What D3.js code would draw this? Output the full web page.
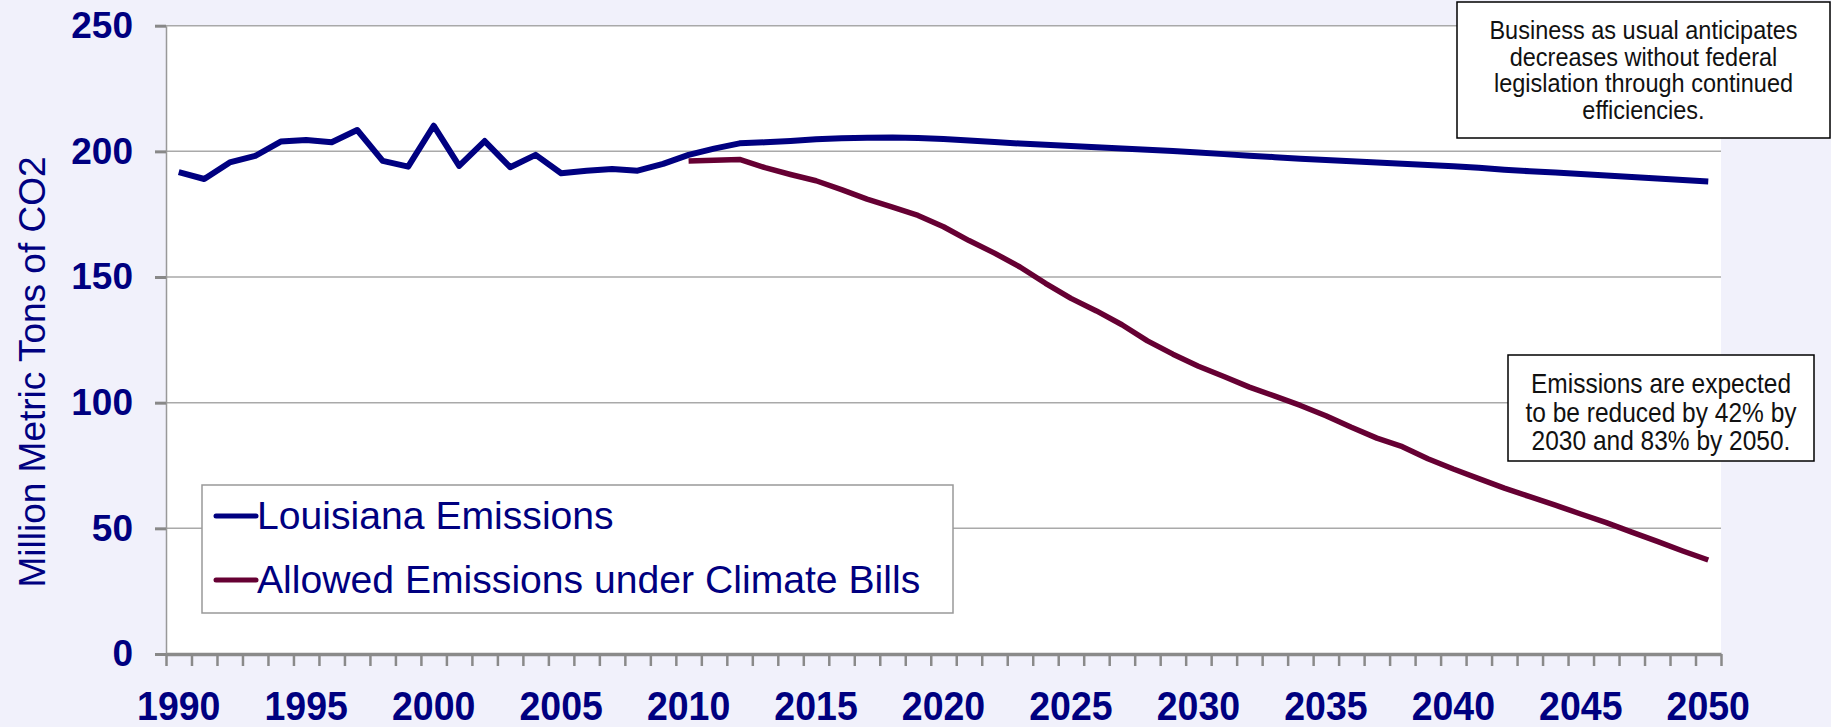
<!DOCTYPE html>
<html>
<head>
<meta charset="utf-8">
<script src="https://cdn.jsdelivr.net/npm/d3@7/dist/d3.min.js"></script>
<style>
body{margin:0;background:#f1f1fb;}
svg{display:block;font-family:Arial,"Liberation Sans",sans-serif;}
</style>
</head>
<body>
<svg id="chart" width="1831" height="727"></svg>
<script>
var years = [1990,1991,1992,1993,1994,1995,1996,1997,1998,1999,
	2000,2001,2002,2003,2004,2005,2006,2007,2008,2009,
	2010,2011,2012,2013,2014,2015,2016,2017,2018,2019,
	2020,2021,2022,2023,2024,2025,2026,2027,2028,2029,
	2030,2031,2032,2033,2034,2035,2036,2037,2038,2039,
	2040,2041,2042,2043,2044,2045,2046,2047,2048,2049,2050];
var xLabels = [1990,1995,2000,2005,2010,2015,2020,2025,2030,2035,2040,2045,2050];
var yTicks = [0,50,100,150,200,250];

// Louisiana Emissions (1990 - 2050)
var louisiana = [191.7,189.0,195.6,198.2,203.9,204.5,203.6,208.5,196.2,193.9,
	210.2,194.2,204.1,193.7,198.6,191.3,192.3,193.0,192.3,195.0,
	198.6,201.1,203.2,203.6,204.1,204.8,205.2,205.4,205.5,205.3,
	204.9,204.3,203.7,203.1,202.6,202.1,201.6,201.1,200.6,200.1,
	199.5,198.9,198.3,197.7,197.1,196.6,196.1,195.6,195.1,194.6,
	194.1,193.5,192.7,192.1,191.6,191.0,190.4,189.8,189.2,188.6,188.0];
// Allowed Emissions under Climate Bills (2010 - 2050)
var allowedYears = years.slice(20);
var allowed = [196.2,196.5,196.8,193.5,190.8,188.3,184.8,181.0,177.8,174.5,
	170.0,164.5,159.5,154.0,147.5,141.5,136.5,131.0,124.6,119.3,
	114.5,110.4,106.2,102.6,98.9,94.8,90.2,85.9,82.5,77.7,
	73.6,69.8,66.0,62.6,59.2,55.7,52.3,48.5,44.8,41.0,37.4];

var seriesNames = ["Louisiana Emissions", "Allowed Emissions under Climate Bills"];
var seriesColors = ["#000080", "#660033"];
var note1 = ["Business as usual anticipates", "decreases without federal", "legislation through continued", "efficiencies."];
var note2 = ["Emissions are expected", "to be reduced by 42% by", "2030 and 83% by 2050."];

var svg = d3.select("#chart");
var plotLeft = 166, plotRight = 1721, plotTop = 25.7, plotBottom = 654;

var x = d3.scalePoint().domain(years).range([plotLeft, plotRight]).padding(0.5);
var xEdge = d3.scaleLinear().domain([years[0]-0.5, years[years.length-1]+0.5]).range([plotLeft, plotRight]);
var y = d3.scaleLinear().domain([0, 250]).range([plotBottom, plotTop]);

svg.append("rect").attr("width", 1831).attr("height", 727).attr("fill", "#f1f1fb");
svg.append("rect").attr("x", plotLeft).attr("y", plotTop).attr("width", plotRight-plotLeft).attr("height", plotBottom-plotTop).attr("fill", "#fff");

// gridlines
svg.append("g").selectAll("line").data(yTicks.slice(1)).join("line")
	.attr("x1", plotLeft).attr("x2", plotRight)
	.attr("y1", function(d){return y(d);}).attr("y2", function(d){return y(d);})
	.attr("stroke", "#a9a9a9").attr("stroke-width", 1.5);

// y axis
var yAxis = svg.append("g").attr("transform", "translate("+plotLeft+",0)")
	.call(d3.axisLeft(y).tickValues(yTicks).tickSize(11).tickPadding(22).tickSizeOuter(0));
yAxis.select(".domain").attr("stroke", "#999").attr("stroke-width", 1.5);
yAxis.selectAll(".tick line").attr("stroke", "#888").attr("stroke-width", 3);
yAxis.selectAll(".tick text").attr("fill", "#000080").attr("font-size", 37).attr("font-weight", "bold")
	.attr("font-family", "Arial, 'Liberation Sans', sans-serif");

// x axis (ticks between categories)
var edges = years.map(function(d){return d-0.5;}).concat([years[years.length-1]+0.5]);
var xAxis = svg.append("g").attr("transform", "translate(0,"+plotBottom+")")
	.call(d3.axisBottom(xEdge).tickValues(edges).tickSize(12).tickSizeOuter(0).tickFormat(""));
xAxis.select(".domain").attr("stroke", "#8a8a8a").attr("stroke-width", 3.5);
xAxis.selectAll(".tick line").attr("stroke", "#8a8a8a").attr("stroke-width", 2.5);

svg.append("g").selectAll("text").data(xLabels).join("text")
	.attr("transform", function(d){return "translate("+x(d)+",720) scale(1,1.08)";})
	.attr("text-anchor", "middle").attr("fill", "#000080")
	.attr("font-size", 37.5).attr("font-weight", "bold")
	.text(function(d){return d;});

// y axis title
svg.append("text").attr("transform", "translate(45,372) rotate(-90)")
	.attr("text-anchor", "middle").attr("fill", "#000080").attr("font-size", 37)
	.text("Million Metric Tons of CO2");

// lines
var line = d3.line().x(function(d){return x(d[0]);}).y(function(d){return y(d[1]);});
svg.append("path").datum(d3.zip(years, louisiana)).attr("d", line)
	.attr("fill", "none").attr("stroke", seriesColors[0]).attr("stroke-width", 6).attr("stroke-linejoin", "round");
svg.append("path").datum(d3.zip(allowedYears, allowed)).attr("d", line)
	.attr("fill", "none").attr("stroke", seriesColors[1]).attr("stroke-width", 5.5).attr("stroke-linejoin", "round");

// legend
var lg = svg.append("g");
lg.append("rect").attr("x", 202).attr("y", 485).attr("width", 751).attr("height", 128)
	.attr("fill", "#fff").attr("stroke", "#999").attr("stroke-width", 1.5);
var lgItem = lg.selectAll("g").data(seriesNames).join("g")
	.attr("transform", function(d, i){return "translate(0,"+(516+i*64)+")";});
lgItem.append("line").attr("x1", 216).attr("x2", 256).attr("stroke-linecap", "round")
	.attr("stroke", function(d, i){return seriesColors[i];}).attr("stroke-width", 5);
lgItem.append("text").attr("transform", "translate(257,13) scale(1.03,1)")
	.attr("fill", "#000080").attr("font-size", 38).text(function(d){return d;});

// notes
function makeNote(lines, bx, by, bw, bh, firstBase, step, fs){
	var g = svg.append("g");
	g.append("rect").attr("x", bx).attr("y", by).attr("width", bw).attr("height", bh)
		.attr("fill", "#fff").attr("stroke", "#000").attr("stroke-width", 1.5);
	g.selectAll("text").data(lines).join("text")
		.attr("transform", function(d, i){return "translate("+(bx+bw/2)+","+(firstBase+i*step)+") scale(1,1.1)";})
		.attr("text-anchor", "middle").attr("fill", "#111").attr("font-size", fs)
		.text(function(d){return d;});
}
makeNote(note1, 1457, 2, 373, 136, 39.3, 26.4, 23.5);
makeNote(note2, 1508, 355, 306, 106, 393.3, 28.3, 24.5);
</script>
</body>
</html>
